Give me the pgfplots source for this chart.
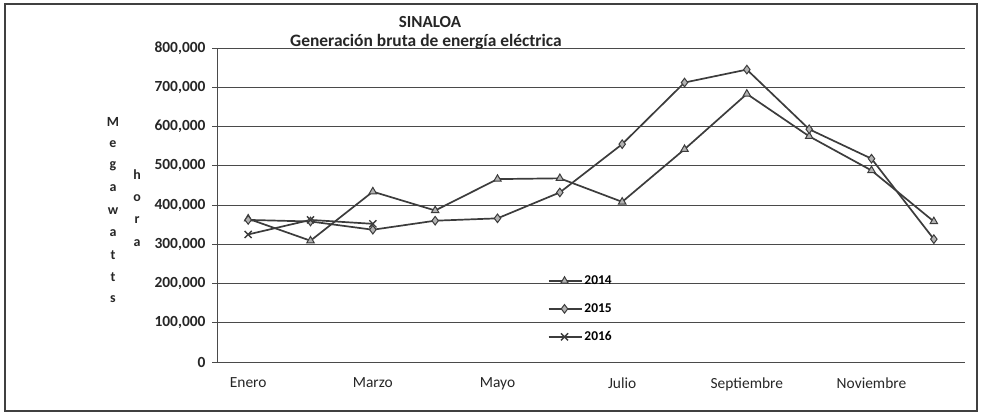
\documentclass[border=0pt]{standalone}
\usepackage{pgfplots}
\pgfplotsset{compat=1.18}
\usepackage{fontspec}
\setmainfont{Carlito}
\definecolor{ln}{HTML}{3C3C3C}
\definecolor{gr}{HTML}{4A4A4A}
\begin{document}
\begin{tikzpicture}[x=1bp,y=1bp]
\path[use as bounding box] (0,0) rectangle (983,415);
\draw[line width=1.2bp, black!75] (5,4) rectangle (977,411);
\begin{axis}[
  at={(217bp,53bp)}, anchor=south west,
  scale only axis, width=748bp, height=314bp,
  xmin=-0.5, xmax=11.5, ymin=0, ymax=800000,
  axis x line*=bottom, axis y line*=left,
  axis line style={gr, line width=0.9bp},
  ytick={0,100000,...,800000},
  ymajorgrids, major grid style={gr, line width=0.9bp},
  scaled y ticks=false,
  /pgf/number format/assume math mode=true,
  yticklabel style={/pgf/number format/fixed, /pgf/number format/1000 sep={,}, font=\bfseries\fontsize{15.5}{15.5}\selectfont, text=black!85, xshift=-3bp},
  ytick style={gr, line width=0.9bp}, tick align=outside, major tick length=5bp,
  xtick={0,2,4,6,8,10},
  xticklabels={Enero,Marzo,Mayo,Julio,Septiembre,Noviembre},
  xticklabel style={font=\fontsize{15.5}{15.5}\selectfont, text=black!85, yshift=-7bp},
  xtick style={draw=none},
  minor xtick={-0.5,0.5,...,11.5},
  minor tick length=5bp,
  minor x tick style={gr, line width=0.9bp},
  legend style={at={(axis cs:4.8,225000)}, anchor=north west, draw=none, fill=none,
    font=\bfseries\fontsize{13.5}{13.5}\selectfont, row sep=13.5bp, inner sep=0pt,
    /tikz/every even column/.append style={column sep=1bp}},
  legend cell align=left,
  legend image code/.code={\draw[#1, line width=1.9bp] (0bp,0bp) -- (16bp,0bp) -- (33bp,0bp); \draw[#1, only marks] plot coordinates {(16bp,0bp)};},
  clip=false,
]
\addplot[ln, line width=1.7bp, mark=triangle*, mark size=4.3bp, mark options={fill=gray!60, draw=ln, line width=1bp}]
 coordinates {(0,365000)(1,309000)(2,434000)(3,386000)(4,466000)(5,468000)(6,408000)(7,542000)(8,683000)(9,575000)(10,488000)(11,358000)};
\addlegendentry{2014}
\addplot[ln, line width=1.7bp, mark=diamond*, mark size=4.3bp, mark options={fill=gray!60, draw=ln, line width=1bp}]
 coordinates {(0,362000)(1,358000)(2,337000)(3,360000)(4,366000)(5,432000)(6,555000)(7,712000)(8,745000)(9,593000)(10,518000)(11,313000)};
\addlegendentry{2015}
\addplot[ln, line width=1.7bp, mark=x, mark size=5bp, mark options={draw=ln, line width=1.4bp}]
 coordinates {(0,325000)(1,362000)(2,352000)};
\addlegendentry{2016}
\end{axis}
\node[font=\bfseries\fontsize{17}{17}\selectfont, text=black!85] at (430,393) {SINALOA};
\node[font=\bfseries\fontsize{17.5}{17.5}\selectfont, text=black!85, anchor=base] at (426,369) {Generación bruta de energía eléctrica};
\foreach \c [count=\i from 0] in {M,e,g,a,w,a,t,t,s} {
  \node[font=\bfseries\fontsize{14}{14}\selectfont, text=black!85] at (113,{415-122-22.2*\i}) {\c};
}
\foreach \c [count=\i from 0] in {h,o,r,a} {
  \node[font=\bfseries\fontsize{14}{14}\selectfont, text=black!85] at (137,{415-175-22.7*\i}) {\c};
}
\end{tikzpicture}
\end{document}
